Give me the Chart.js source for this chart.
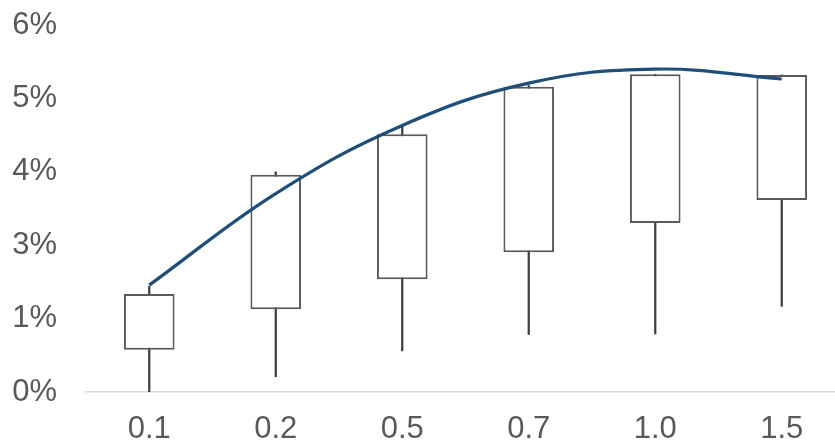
<!DOCTYPE html>
<html>
<head>
<meta charset="utf-8">
<script src="https://cdn.jsdelivr.net/npm/chart.js@4"></script>
<style>
  html, body { margin: 0; padding: 0; background: #fff; overflow: hidden; }
  #wrap { position: absolute; left: 0; top: 0; width: 845px; height: 443px; }
</style>
</head>
<body>
<div id="wrap"><canvas id="boxChart" width="845" height="443"></canvas></div>
<script>
// categories and box values (in %)
var categories = ["0.1", "0.2", "0.5", "0.7", "1.0", "1.5"];
var whiskerMin = [0.00, 0.26, 0.70, 0.98, 0.99, 1.46];
var boxLow     = [0.72, 1.41, 1.92, 2.38, 2.88, 3.27];
var boxHigh    = [1.67, 3.70, 4.39, 5.20, 5.41, 5.40];
var whiskerMax = [1.80, 3.75, 4.53, 5.22, 5.41, 5.40];
// trend curve at each category
var trend      = [1.82, 3.38, 4.54, 5.26, 5.50, 5.33];
var yTicks = { min: 0, max: 6.25, step: 1.25 };

var boxes = [], whiskers = [];
for (let i = 0; i < categories.length; i++) {
	boxes.push([boxLow[i], boxHigh[i]]);
	whiskers.push([whiskerMin[i], whiskerMax[i]]);
}

var labelFont = { family: 'Liberation Sans, Arial, sans-serif', size: 31 };

var ctx = document.getElementById("boxChart");
new Chart(ctx, {
	type: 'bar',
	data: {
		labels: categories,
		datasets: [
			{
				type: 'line',
				data: trend,
				borderColor: '#1F4E79',
				borderWidth: 3.2,
				pointRadius: 0,
				tension: 0.4,
				fill: false,
				order: 1
			},
			{
				data: boxes,
				backgroundColor: '#ffffff',
				borderColor: '#5a5a5a',
				borderWidth: 2,
				borderSkipped: false,
				grouped: false,
				categoryPercentage: 1,
				barPercentage: 0.40,
				order: 2
			},
			{
				data: whiskers,
				backgroundColor: '#3f3f3f',
				borderWidth: 0,
				grouped: false,
				barThickness: 1.6,
				order: 3
			}
		]
	},
	options: {
		responsive: false,
		animation: false,
		layout: { autoPadding: false, padding: { left: 12, top: 0, right: 0, bottom: 0 } },
		plugins: { legend: { display: false }, tooltip: { enabled: false } },
		scales: {
			x: {
				grid: { display: false, drawTicks: false },
				border: { display: true, color: '#d9d9d9', width: 1.5 },
				ticks: { color: '#595959', padding: 19, font: labelFont },
				afterFit: function(scale) { scale.height = 51; }
			},
			y: {
				min: yTicks.min,
				max: yTicks.max,
				grid: { display: false, drawTicks: false },
				border: { display: false },
				ticks: {
					stepSize: yTicks.step,
					color: '#595959',
					padding: 29,
					font: labelFont,
					callback: function(v) { return Math.round(v) + '%'; }
				},
				afterFit: function(scale) {
					scale.width = 74;
					scale.paddingTop = 25;
					scale.paddingBottom = 0;
				}
			}
		}
	}
});
</script>
</body>
</html>
